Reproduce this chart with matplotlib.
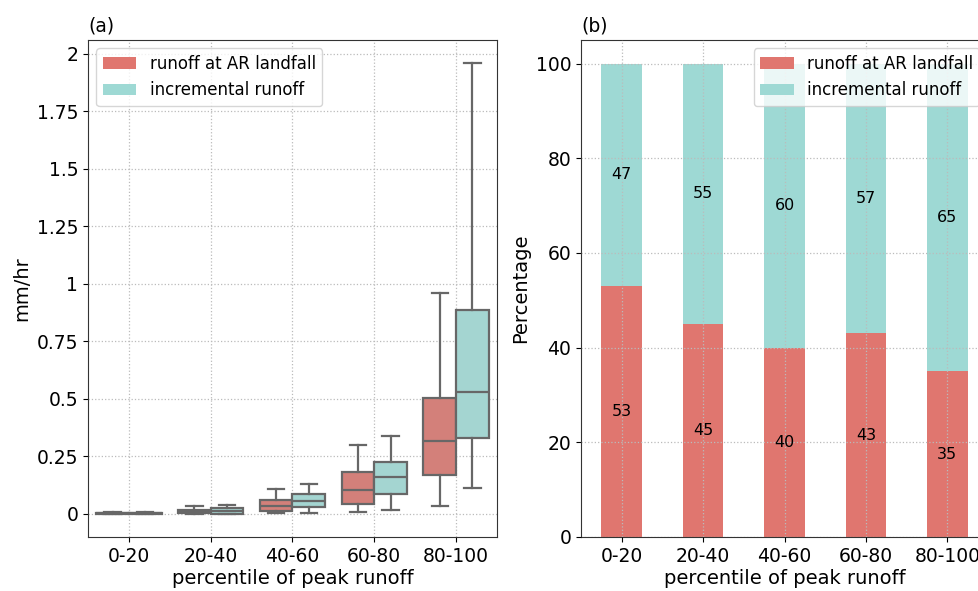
import numpy as np
import matplotlib
matplotlib.use("Agg")
import matplotlib.pyplot as plt
from matplotlib.patches import Patch
from matplotlib.ticker import FuncFormatter

groups = ["0-20", "20-40", "40-60", "60-80", "80-100"]
labels = ["runoff at AR landfall", "incremental runoff"]

# box statistics (mm/hr) for runoff at AR landfall
land_lo = [0.0, 0.0, 0.004, 0.009, 0.036]
land_q1 = [0.001, 0.004, 0.012, 0.043, 0.168]
land_med = [0.003, 0.011, 0.033, 0.105, 0.318]
land_q3 = [0.006, 0.019, 0.059, 0.182, 0.503]
land_hi = [0.010, 0.033, 0.110, 0.299, 0.962]

# box statistics (mm/hr) for incremental runoff
inc_lo = [0.0, 0.0, 0.006, 0.016, 0.114]
inc_q1 = [0.001, 0.002, 0.032, 0.088, 0.332]
inc_med = [0.003, 0.012, 0.055, 0.159, 0.529]
inc_q3 = [0.006, 0.026, 0.087, 0.228, 0.886]
inc_hi = [0.009, 0.038, 0.129, 0.340, 1.958]

# share of peak runoff (%)
pct_land = [53, 45, 40, 43, 35]
pct_inc = [47, 55, 60, 57, 65]

red = "#E0766F"
teal = "#9ED9D4"
red_box = "#D3807A"
teal_box = "#A4D5D1"
line_c = "#676767"

plt.rcParams["xtick.labelsize"] = 13.5
plt.rcParams["ytick.labelsize"] = 13.5
plt.rcParams["axes.labelsize"] = 14

fig = plt.figure(figsize=(9.79, 5.91), dpi=100)
W, H = 979, 591
ax1 = fig.add_axes([88 / W, 54 / H, 409 / W, 497 / H])
ax2 = fig.add_axes([581 / W, 54 / H, 407 / W, 497 / H])

x = np.arange(len(groups))


def make_stats(lo, q1, med, q3, hi):
    return [dict(whislo=a, q1=b, med=c, q3=d, whishi=e, fliers=[])
            for a, b, c, d, e in zip(lo, q1, med, q3, hi)]


props = dict(color=line_c, linewidth=1.6)
for stats, off, col in [(make_stats(land_lo, land_q1, land_med, land_q3, land_hi), -0.2, red_box),
                        (make_stats(inc_lo, inc_q1, inc_med, inc_q3, inc_hi), 0.2, teal_box)]:
    ax1.bxp(stats, positions=x + off, widths=0.4, patch_artist=True, showfliers=False,
            boxprops=dict(facecolor=col, edgecolor=line_c, linewidth=1.6),
            medianprops=props, whiskerprops=props, capprops=props,
            capwidths=0.2, manage_ticks=False)

ax1.set_xticks(x)
ax1.set_xticklabels(groups)
ax1.set_xlim(-0.5, 4.5)
ax1.set_ylim(-0.1, 2.06)
ax1.set_yticks(np.arange(0, 2.01, 0.25))
ax1.yaxis.set_major_formatter(FuncFormatter(lambda v, p: f"{v:g}"))
ax1.set_xlabel("percentile of peak runoff", labelpad=2)
ax1.set_ylabel("mm/hr")
ax1.grid(True, linestyle=":", color="#bbbbbb", linewidth=0.9)
ax1.set_axisbelow(True)
ax1.set_title("(a)", loc="left", fontsize=13.5, pad=6)

handles = [Patch(facecolor=red, edgecolor="none"), Patch(facecolor=teal, edgecolor="none")]
ax1.legend(handles, labels, loc="upper left", fontsize=12)

# stacked percentage bars
ax2.bar(x, pct_land, width=0.5, color=red)
ax2.bar(x, pct_inc, width=0.5, bottom=pct_land, color=teal)
for i in range(len(groups)):
    ax2.text(x[i], pct_land[i] / 2, f"{pct_land[i]}", ha="center", va="center", fontsize=11.5)
    ax2.text(x[i], pct_land[i] + pct_inc[i] / 2, f"{pct_inc[i]}", ha="center", va="center", fontsize=11.5)

ax2.set_xticks(x)
ax2.set_xticklabels(groups)
ax2.set_xlim(-0.5, 4.5)
ax2.set_ylim(0, 105)
ax2.set_xlabel("percentile of peak runoff", labelpad=2)
ax2.set_ylabel("Percentage")
ax2.grid(True, linestyle=":", color="#bbbbbb", linewidth=0.9)
ax2.set_axisbelow(False)
ax2.set_title("(b)", loc="left", fontsize=13.5, pad=6)
ax2.legend(labels, loc="upper right", fontsize=12)

for ax in (ax1, ax2):
    for s in ax.spines.values():
        s.set_color("#333333")

fig.savefig("out.png", dpi=100)
